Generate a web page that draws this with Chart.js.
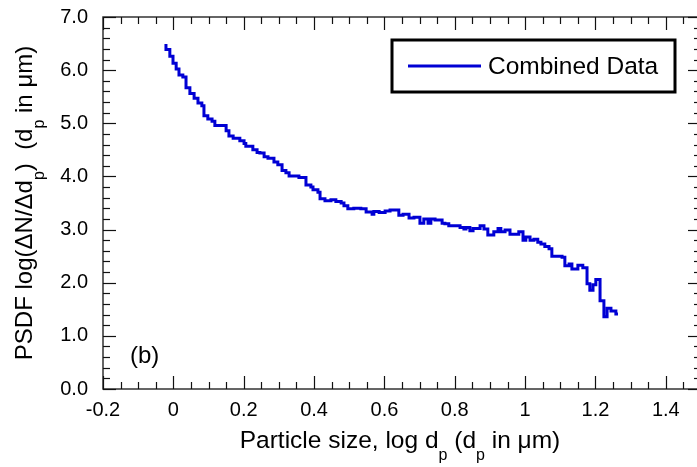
<!DOCTYPE html>
<html>
<head>
<meta charset="utf-8">
<script src="https://cdn.jsdelivr.net/npm/chart.js@4.4.1/dist/chart.umd.min.js"></script>
<style>
  html, body { margin: 0; padding: 0; background: #fff; overflow: hidden; }
  canvas { display: block; }
</style>
</head>
<body>
<canvas id="chart" width="710" height="467"></canvas>
<script>
// данные (начало каждой ступеньки)
const logDp = [
  -0.021, -0.010, -0.001, 0.008, 0.016, 0.027, 0.036, 0.047, 0.059, 0.070,
  0.081, 0.087, 0.098, 0.110, 0.118, 0.150, 0.158, 0.170, 0.189, 0.201,
  0.206, 0.226, 0.238, 0.246, 0.258, 0.269, 0.286, 0.297, 0.309, 0.320,
  0.329, 0.357, 0.377, 0.391, 0.397, 0.411, 0.417, 0.431, 0.448, 0.462,
  0.477, 0.485, 0.496, 0.513, 0.533, 0.548, 0.565, 0.570, 0.585, 0.602,
  0.616, 0.641, 0.653, 0.670, 0.684, 0.701, 0.712, 0.724, 0.732, 0.744,
  0.764, 0.772, 0.783, 0.815, 0.826, 0.832, 0.843, 0.852, 0.872, 0.883,
  0.894, 0.911, 0.923, 0.931, 0.943, 0.957, 0.982, 0.994, 1.002, 1.014,
  1.025, 1.036, 1.045, 1.056, 1.068, 1.076, 1.105, 1.113, 1.125, 1.133,
  1.150, 1.164, 1.176, 1.184, 1.193, 1.201, 1.213, 1.224, 1.233, 1.244,
  1.258, 1.264
];
const psdf = [
  6.49, 6.39, 6.26, 6.13, 6.02, 5.91, 5.87, 5.67, 5.56, 5.47,
  5.38, 5.33, 5.14, 5.08, 5.04, 4.96, 4.86, 4.76, 4.72, 4.67,
  4.62, 4.57, 4.50, 4.45, 4.44, 4.37, 4.34, 4.27, 4.22, 4.11,
  4.07, 4.01, 3.98, 3.84, 3.80, 3.75, 3.70, 3.58, 3.54, 3.56,
  3.53, 3.50, 3.45, 3.39, 3.40, 3.39, 3.33, 3.29, 3.34, 3.32,
  3.35, 3.37, 3.27, 3.29, 3.22, 3.23, 3.12, 3.20, 3.12, 3.20,
  3.18, 3.12, 3.11, 3.07, 3.04, 3.01, 3.04, 2.98, 3.02, 3.07,
  3.01, 2.90, 2.96, 3.02, 2.96, 2.99, 2.91, 2.96, 2.80, 2.86,
  2.80, 2.82, 2.76, 2.73, 2.68, 2.64, 2.50, 2.48, 2.32, 2.35,
  2.26, 2.33, 2.28, 1.98, 1.86, 1.96, 2.06, 1.66, 1.36, 1.52,
  1.47, 1.41
];

const xMajorTicks = [-0.2, 0, 0.2, 0.4, 0.6, 0.8, 1, 1.2, 1.4];
const xTickLabels = ['-0.2', '0', '0.2', '0.4', '0.6', '0.8', '1', '1.2', '1.4'];
const yMajorTicks = [0, 1, 2, 3, 4, 5, 6, 7];
const yTickLabels = ['0.0', '1.0', '2.0', '3.0', '4.0', '5.0', '6.0', '7.0'];
const xMinorStep = 0.05;
const yMinorStep = 0.2;

const seriesLabel = 'Combined Data';
const lineColor = '#0000d4';
const FONT = '"Liberation Sans", Arial, sans-serif';

// засечки внутрь со всех четырёх сторон
const frameTicks = {
  id: 'frameTicks',
  afterDatasetsDraw(c) {
    const { ctx, chartArea: a, scales: { x, y } } = c;
    ctx.save();
    ctx.strokeStyle = '#333';
    ctx.lineWidth = 1.5;
    ctx.strokeRect(a.left, a.top, a.right - a.left, a.bottom - a.top);
    ctx.lineWidth = 1.2;
    ctx.strokeStyle = '#111';
    const tick = (x1, y1, x2, y2) => {
      ctx.beginPath(); ctx.moveTo(x1, y1); ctx.lineTo(x2, y2); ctx.stroke();
    };
    for (let v = x.min; v <= x.max + 1e-9; v += xMinorStep) {
      const major = xMajorTicks.some(t => Math.abs(t - v) < 1e-6);
      const len = major ? 13 : 7;
      const px = Math.round(x.getPixelForValue(v)) + 0.5;
      tick(px, a.bottom, px, a.bottom - len);
      tick(px, a.top, px, a.top + len);
    }
    for (let v = y.min; v <= y.max + 1e-9; v += yMinorStep) {
      const major = yMajorTicks.some(t => Math.abs(t - v) < 1e-6);
      const len = major ? 13 : 7;
      const py = Math.round(y.getPixelForValue(v)) + 0.5;
      tick(a.left, py, a.left + len, py);
      tick(a.right, py, a.right - len, py);
    }
    ctx.restore();
  }
};

// подписи осей с нижними индексами, метка (b) и легенда в рамке
function drawRich(ctx, parts, size, subSize, subDrop) {
  let w = 0;
  parts.forEach(p => {
    ctx.font = (p.sub ? subSize : size) + 'px ' + FONT;
    p.w = ctx.measureText(p.t).width;
    w += p.w;
  });
  let cx = -w / 2;
  parts.forEach(p => {
    ctx.font = (p.sub ? subSize : size) + 'px ' + FONT;
    ctx.fillText(p.t, cx, p.sub ? subDrop : 0);
    cx += p.w;
  });
}

const annotations = {
  id: 'annotations',
  afterDraw(c) {
    const { ctx, chartArea: a } = c;
    ctx.save();
    ctx.fillStyle = '#000';
    ctx.textBaseline = 'alphabetic';
    ctx.textAlign = 'left';

    ctx.save();
    ctx.translate(400, 448);
    drawRich(ctx, [
      { t: 'Particle size, log d' }, { t: 'p', sub: true },
      { t: ' (d' }, { t: 'p', sub: true }, { t: ' in \u03bcm)' }
    ], 24.5, 16, 12);
    ctx.restore();

    ctx.save();
    ctx.translate(32, (a.top + a.bottom) / 2);
    ctx.rotate(-Math.PI / 2);
    drawRich(ctx, [
      { t: 'PSDF log(\u0394N/\u0394d' }, { t: 'p', sub: true },
      { t: ')  (d' }, { t: 'p', sub: true }, { t: ' in \u03bcm)' }
    ], 24, 16, 12);
    ctx.restore();

    ctx.font = '24px ' + FONT;
    ctx.fillText('(b)', 130, 363);

    // легенда
    ctx.lineWidth = 3;
    ctx.strokeStyle = '#000';
    ctx.fillStyle = '#fff';
    ctx.fillRect(392, 40, 283, 52);
    ctx.strokeRect(392, 40, 283, 52);
    const ds = c.data.datasets[0];
    ctx.strokeStyle = ds.borderColor;
    ctx.beginPath(); ctx.moveTo(408, 66); ctx.lineTo(481, 66); ctx.stroke();
    ctx.fillStyle = '#000';
    ctx.textBaseline = 'middle';
    ctx.font = '24.5px ' + FONT;
    ctx.fillText(ds.label, 488, 67);
    ctx.restore();
  }
};

new Chart(document.getElementById('chart'), {
  type: 'line',
  data: {
    datasets: [{
      label: seriesLabel,
      data: logDp.map((v, i) => ({ x: v, y: psdf[i] })),
      borderColor: lineColor,
      borderWidth: 3,
      stepped: 'after',
      pointRadius: 0,
      fill: false
    }]
  },
  options: {
    responsive: false,
    animation: false,
    layout: { padding: { top: 17, right: 9, left: 0, bottom: 0 } },
    plugins: { legend: { display: false }, tooltip: { enabled: false } },
    scales: {
      x: {
        type: 'linear',
        min: -0.2,
        max: 1.5,
        afterBuildTicks: s => { s.ticks = xMajorTicks.map(v => ({ value: v })); },
        afterFit: s => { s.height = 78; s.paddingLeft = 0; s.paddingRight = 0; },
        grid: { display: false, drawTicks: false },
        border: { display: false },
        ticks: {
          padding: 9,
          color: '#000',
          font: { family: FONT, size: 20 },
          callback: (v, i) => xTickLabels[i]
        }
      },
      y: {
        min: 0,
        max: 7,
        afterBuildTicks: s => { s.ticks = yMajorTicks.map(v => ({ value: v })); },
        afterFit: s => { s.width = 103; s.paddingTop = 0; s.paddingBottom = 0; },
        grid: { display: false, drawTicks: false },
        border: { display: false },
        ticks: {
          padding: 15,
          color: '#000',
          font: { family: FONT, size: 20 },
          callback: (v, i) => yTickLabels[i]
        }
      }
    }
  },
  plugins: [frameTicks, annotations]
});
</script>
</body>
</html>
